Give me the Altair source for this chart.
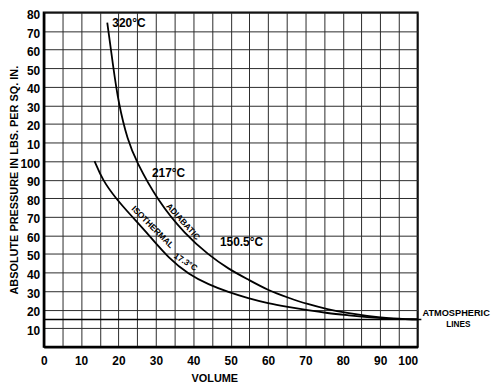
import altair as alt
import pandas as pd

# ---- data ----
adiabatic_volume = [17.0, 18.5, 20.0, 22.5, 24.7, 30.4, 37.9, 44.1, 49.4, 54.7, 60.0, 65.3, 70.6, 75.9, 81.2, 86.5, 91.8, 100.0]
adiabatic_pressure = [174.6, 152.0, 131.0, 110.8, 100.1, 78.8, 60.3, 49.5, 41.9, 36.2, 30.4, 26.5, 22.9, 20.2, 18.2, 16.6, 15.4, 14.7]
isothermal_volume = [13.6, 15.8, 19.4, 22.9, 28.2, 33.5, 38.8, 44.1, 49.4, 54.7, 60.0, 65.3, 70.6, 75.9, 81.2, 86.5, 91.8, 100.0]
isothermal_pressure = [100.0, 89.5, 79.7, 71.7, 60.0, 47.5, 39.0, 33.5, 29.4, 26.1, 23.4, 21.5, 19.7, 18.1, 17.0, 15.9, 15.1, 14.7]

atmospheric_pressure = [14.7]
atmospheric_from = [0]
atmospheric_to = [101]

x_ticks = list(range(0, 101, 5))
y_ticks = list(range(10, 181, 10))

temp_labels = ["320°C", "217°C", "150.5°C"]
temp_x = [22.8, 33.4, 52.9]
temp_y = [174.1, 93.5, 56.6]

curve_labels = ["ADIABATIC", "ISOTHERMAL", "17.3°C"]
curve_label_x = [37.3, 29.2, 38.0]
curve_label_y = [67.5, 64.6, 45.8]
curve_label_angle = [48, 45, 33]

side_labels = ["ATMOSPHERIC", "LINES"]
side_x = [110.3, 110.9]
side_y = [18.4, 11.75]
side_size = [9.3, 8.3]

FONT = "Liberation Sans"

curves = pd.DataFrame({
    "volume": adiabatic_volume + isothermal_volume,
    "pressure": adiabatic_pressure + isothermal_pressure,
    "curve": ["adiabatic"] * len(adiabatic_volume) + ["isothermal"] * len(isothermal_volume),
    "idx": list(range(len(adiabatic_volume))) + list(range(len(isothermal_volume))),
})
atm = pd.DataFrame({"volume": atmospheric_from, "x1": atmospheric_to, "pressure": atmospheric_pressure})
temps = pd.DataFrame({"volume": temp_x, "pressure": temp_y, "t": temp_labels})
clabs = pd.DataFrame({"volume": curve_label_x, "pressure": curve_label_y, "t": curve_labels, "a": curve_label_angle})
sides = pd.DataFrame({"volume": side_x, "pressure": side_y, "t": side_labels, "s": side_size})

xscale = alt.Scale(domain=[0, 100], nice=False, zero=False)
yscale = alt.Scale(domain=[0, 180], nice=False, zero=False)

x_axis = alt.Axis(
    values=x_ticks,
    labelExpr="datum.value % 10 == 0 ? datum.label : ''",
    grid=True, gridColor="#2a2a2a", gridWidth=1,
    ticks=False, tickSize=0,
    labelPadding=9, labelFont=FONT, labelFontSize=12, labelFontWeight="bold", labelColor="black",
    labelFlush=False,
    labelAlign={"condition": {"test": "datum.value == 100", "value": "right"}, "value": "center"},
    domain=True, domainColor="black", domainWidth=2.5,
    title="VOLUME", titleFont=FONT, titleFontSize=11, titleFontWeight="bold", titleColor="black",
    titleX=172, titleY=32, titleAlign="center", titleBaseline="middle",
)
y_axis = alt.Axis(
    values=y_ticks,
    labelExpr="datum.value > 100 ? '' + (datum.value - 100) : datum.label",
    grid=True, gridColor="#2a2a2a", gridWidth=1,
    ticks=False, tickSize=0,
    labelPadding=4, labelOffset=2, labelFont=FONT, labelFontSize=12, labelFontWeight="bold", labelColor="black",
    labelFlush=False,
    domain=True, domainColor="black", domainWidth=2.5,
    title="ABSOLUTE PRESSURE IN LBS. PER SQ. IN.", titleFont=FONT, titleFontSize=11,
    titleFontWeight="bold", titleColor="black",
    titleX=-29, titleY=168.5, titleAngle=270, titleAlign="center", titleBaseline="middle",
)

X = lambda: alt.X("volume:Q", scale=xscale, axis=x_axis, title="VOLUME")
Y = lambda: alt.Y("pressure:Q", scale=yscale, axis=y_axis, title="ABSOLUTE PRESSURE IN LBS. PER SQ. IN.")

lines = alt.Chart(curves).mark_line(color="black", strokeWidth=1.8, interpolate="basis").encode(
    x=X(), y=Y(), detail="curve:N", order="idx:Q",
)

rule = alt.Chart(atm).mark_rule(color="black", strokeWidth=1.6).encode(
    x=X(), x2="x1:Q", y=Y(),
)

temp_text = alt.Chart(temps).mark_text(font=FONT, fontSize=12, fontWeight="bold", color="black").encode(
    x=X(), y=Y(), text="t:N",
)

curve_text = alt.Chart(clabs).mark_text(font=FONT, fontSize=8.5, fontWeight="bold", color="black").encode(
    x=X(), y=Y(), text="t:N", angle=alt.Angle("a:Q", scale=None),
)

side_text = alt.Chart(sides).mark_text(font=FONT, fontWeight="bold", color="black").encode(
    x=X(), y=Y(), text="t:N", size=alt.Size("s:Q", scale=None),
)

chart = alt.layer(lines, rule, temp_text, curve_text, side_text).properties(
    width=377,
    height=337,
    autosize=alt.AutoSizeParams(type="none"),
    padding={"left": 36, "top": 3, "right": 75, "bottom": 40},
    background="white",
).configure_view(stroke="black", strokeWidth=2)

chart.save("out.html", embed_options={"renderer": "svg", "actions": False})
